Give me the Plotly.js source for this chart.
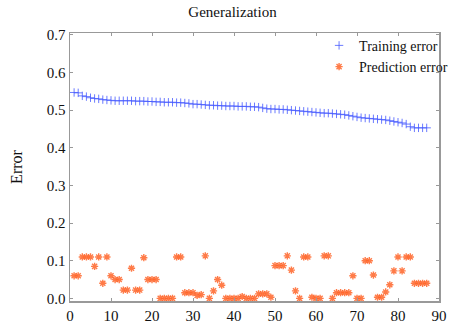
<!DOCTYPE html>
<html>
<head>
<meta charset="utf-8">
<script src="https://cdn.plot.ly/plotly-3.0.1.min.js"></script>
<style>html,body{margin:0;padding:0;background:#fff;}#chart{width:465px;height:330px;}</style>
</head>
<body>
<div id="chart"></div>
<script>
const epochs = [];
for (let i = 1; i <= 87; i++) epochs.push(i);

const trainingError = [
  0.547, 0.546, 0.538, 0.536, 0.533, 0.531, 0.530, 0.528, 0.527, 0.526,
  0.525, 0.525, 0.525, 0.525, 0.525, 0.524, 0.524, 0.524, 0.523, 0.523,
  0.522, 0.522, 0.521, 0.521, 0.521, 0.520, 0.520, 0.519, 0.518, 0.516,
  0.516, 0.515, 0.514, 0.513, 0.513, 0.512, 0.512, 0.511, 0.511, 0.511,
  0.510, 0.510, 0.510, 0.509, 0.509, 0.508, 0.506, 0.504, 0.503, 0.503,
  0.502, 0.502, 0.501, 0.500, 0.499, 0.498, 0.497, 0.496, 0.495, 0.494,
  0.493, 0.492, 0.492, 0.491, 0.490, 0.489, 0.488, 0.486, 0.484, 0.482,
  0.480, 0.479, 0.478, 0.477, 0.476, 0.475, 0.474, 0.472, 0.470, 0.468,
  0.466, 0.463, 0.456, 0.453, 0.453, 0.453, 0.453
];

const predictionError = [
  0.060, 0.060, 0.110, 0.110, 0.110, 0.085, 0.110, 0.040, 0.110, 0.060,
  0.050, 0.050, 0.022, 0.022, 0.080, 0.022, 0.022, 0.108, 0.050, 0.050,
  0.050, 0.000, 0.000, 0.000, 0.000, 0.110, 0.110, 0.015, 0.015, 0.015,
  0.008, 0.010, 0.113, 0.000, 0.020, 0.050, 0.035, 0.000, 0.000, 0.000,
  0.000, 0.005, 0.000, 0.000, 0.000, 0.012, 0.012, 0.012, 0.003, 0.087,
  0.087, 0.087, 0.113, 0.075, 0.020, 0.000, 0.110, 0.110, 0.003, 0.000,
  0.000, 0.113, 0.113, 0.000, 0.015, 0.015, 0.015, 0.015, 0.060, 0.000,
  0.000, 0.100, 0.100, 0.062, 0.003, 0.003, 0.017, 0.036, 0.073, 0.110,
  0.073, 0.110, 0.110, 0.040, 0.040, 0.040, 0.040
];

const xTicks = [0, 10, 20, 30, 40, 50, 60, 70, 80, 90];
const yTicks = [0.0, 0.1, 0.2, 0.3, 0.4, 0.5, 0.6, 0.7];
const yTickLabels = ['0.0', '0.1', '0.2', '0.3', '0.4', '0.5', '0.6', '0.7'];

const serif = '"Liberation Serif", "DejaVu Serif", serif';

const traces = [
  {
    x: epochs, y: trainingError, name: 'Training error',
    type: 'scatter', mode: 'markers',
    marker: {symbol: 'cross-thin-open', size: 6, color: 'rgba(70,90,255,0.8)', line: {color: 'rgba(70,90,255,0.8)', width: 1}}
  },
  {
    x: epochs, y: predictionError, name: 'Prediction error',
    type: 'scatter', mode: 'markers',
    marker: {symbol: 'asterisk-open', size: 6, color: 'rgba(255,100,40,0.85)', line: {color: 'rgba(255,100,40,0.85)', width: 1.4}}
  }
];

const axisCommon = {
  showgrid: false, zeroline: false, showline: true, mirror: 'ticks',
  linecolor: '#999999', linewidth: 1.5,
  ticks: 'inside', ticklen: 3, tickcolor: '#999999', tickwidth: 1,
  tickfont: {family: serif, size: 15, color: '#111'}
};

const layout = {
  width: 465, height: 330,
  margin: {l: 70, r: 16, t: 33, b: 29},
  paper_bgcolor: '#fff', plot_bgcolor: '#fff',
  title: {text: 'Generalization', font: {family: serif, size: 15, color: '#111'}, x: 0.5, xanchor: 'center', y: 0.965, yanchor: 'middle'},
  showlegend: true,
  legend: {
    x: 0.675, y: 1.012, xanchor: 'left', yanchor: 'top',
    bgcolor: 'rgba(0,0,0,0)', borderwidth: 0,
    font: {family: serif, size: 14, color: '#111'},
    itemwidth: 30, tracegroupgap: 0
  },
  xaxis: Object.assign({}, axisCommon, {
    range: [0, 90], tickvals: xTicks, ticktext: xTicks.map(String)
  }),
  yaxis: Object.assign({}, axisCommon, {
    range: [-0.007, 0.705], tickvals: yTicks, ticktext: yTickLabels,
    title: {text: 'Error', font: {family: serif, size: 16, color: '#111'}, standoff: 20}
  })
};

Plotly.newPlot('chart', traces, layout, {displayModeBar: false, staticPlot: true});
</script>
</body>
</html>
